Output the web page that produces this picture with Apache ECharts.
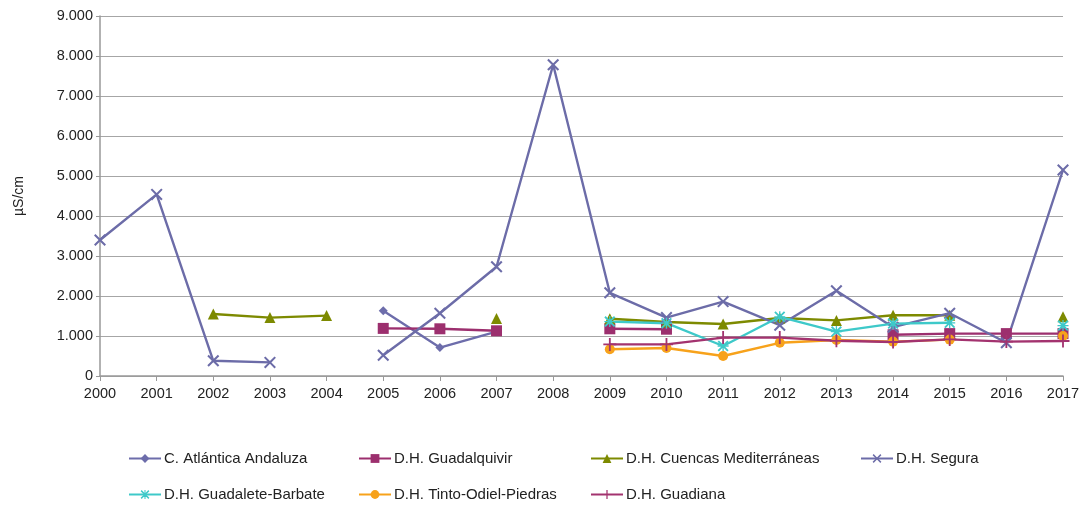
<!DOCTYPE html>
<html>
<head>
<meta charset="utf-8">
<script src="https://cdn.jsdelivr.net/npm/echarts@6/dist/echarts.min.js"></script>
<style>
html,body{margin:0;padding:0;background:#fff;}
#chart{width:1085px;height:511px;}
</style>
</head>
<body>
<div id="chart"></div>
<script>
const years = ['2000','2001','2002','2003','2004','2005','2006','2007','2008','2009','2010','2011','2012','2013','2014','2015','2016','2017'];
const yTicks = [0,1000,2000,3000,4000,5000,6000,7000,8000,9000];

const atlantica    = [null,null,null,null,null,1630,710,1110,null,null,null,null,null,null,null,null,null,null];
const guadalquivir = [null,null,null,null,null,1190,1180,1130,null,1180,1170,null,null,null,1030,1060,1060,1060];
const cuencas      = [null,null,1550,1460,1510,null,null,1440,null,1430,1350,1300,1450,1390,1520,1520,null,1480];
const segura       = [3400,4540,380,340,null,520,1570,2730,7780,2080,1460,1860,1270,2130,1220,1570,830,5150];
const guadalete    = [null,null,null,null,null,null,null,null,null,1360,1320,750,1480,1110,1310,1330,null,1260];
const tinto        = [null,null,null,null,null,null,null,null,null,670,700,500,830,900,860,910,null,1000];
const guadiana     = [null,null,null,null,null,null,null,null,null,790,790,960,960,880,850,915,860,875];

const names = ['C. Atlántica Andaluza','D.H. Guadalquivir','D.H. Cuencas Mediterráneas','D.H. Segura','D.H. Guadalete-Barbate','D.H. Tinto-Odiel-Piedras','D.H. Guadiana'];

const X_SYM = 'path://M0,1.2L1.2,0L5,3.8L8.8,0L10,1.2L6.2,5L10,8.8L8.8,10L5,6.2L1.2,10L0,8.8L3.8,5Z';
const PLUS_SYM = 'path://M4.3,0H5.7V4.3H10V5.7H5.7V10H4.3V5.7H0V4.3H4.3Z';
const STAR_SYM = 'path://M0,1.2L1.2,0L5,3.8L8.8,0L10,1.2L6.2,5L10,8.8L8.8,10L5,6.2L1.2,10L0,8.8L3.8,5Z M4.4,0H5.6V4.4H10V5.6H5.6V10H4.4V5.6H0V4.4H4.4Z';

const colors = ['#6d6dab','#9c2f6e','#7d8a00','#6c6ca8','#3ec9c9','#f7a21b','#a3336f'];
const symbols = ['diamond','rect','triangle',X_SYM,STAR_SYM,'circle',PLUS_SYM];
const sizes = [9,11,11,12,11,10,13];
const datasets = [atlantica,guadalquivir,cuencas,segura,guadalete,tinto,guadiana];

const FONT = 'Liberation Sans, Arial, sans-serif';

const series = names.map((n,i)=>({
  name:n, type:'line', data:datasets[i],
  symbol:symbols[i], symbolSize:sizes[i], showAllSymbol:true,
  connectNulls:false,
  lineStyle:{color:colors[i],width:2.4},
  itemStyle:{color:colors[i]},
  emphasis:{disabled:true},
  animation:false
}));

const legendPos = [
  {left:128, top:451},{left:358, top:451},{left:590, top:451},{left:860, top:451},
  {left:128, top:487},{left:358, top:487},{left:590, top:487}
];
const legends = names.map((n,i)=>({
  data:[n], left:legendPos[i].left, top:legendPos[i].top,
  itemWidth:32, itemHeight:11, itemGap:4,
  textStyle:{fontFamily:FONT, fontSize:15, color:'#222', padding:[0,0,0,-2]},
  padding:0
}));

const chart = echarts.init(document.getElementById('chart'));
chart.setOption({
  animation:false,
  backgroundColor:'#fff',
  grid:{left:100, right:22, top:16, bottom:135, containLabel:false},
  legend:legends,
  xAxis:{
    type:'category', data:years, boundaryGap:false,
    axisLine:{lineStyle:{color:'#999',width:1.5}},
    axisTick:{show:true, alignWithLabel:true, length:5, lineStyle:{color:'#999'}},
    axisLabel:{color:'#222', fontSize:14.5, fontFamily:FONT, margin:10, interval:0},
    splitLine:{show:false}
  },
  yAxis:{
    type:'value', min:0, max:9000, interval:1000,
    name:'µS/cm', nameLocation:'middle', nameGap:74, nameRotate:90,
    nameTextStyle:{color:'#222', fontSize:14, fontFamily:FONT},
    axisLine:{show:true, lineStyle:{color:'#999',width:1.5}},
    axisTick:{show:true, length:4, lineStyle:{color:'#999'}},
    axisLabel:{color:'#222', fontSize:14.5, fontFamily:FONT, margin:7,
      formatter:v=> v===0 ? '0' : String(v).replace(/\B(?=(\d{3})+(?!\d))/g,'.')},
    splitLine:{show:true, lineStyle:{color:'#a6a6a6',width:1.2}}
  },
  series:series
});
</script>
</body>
</html>
